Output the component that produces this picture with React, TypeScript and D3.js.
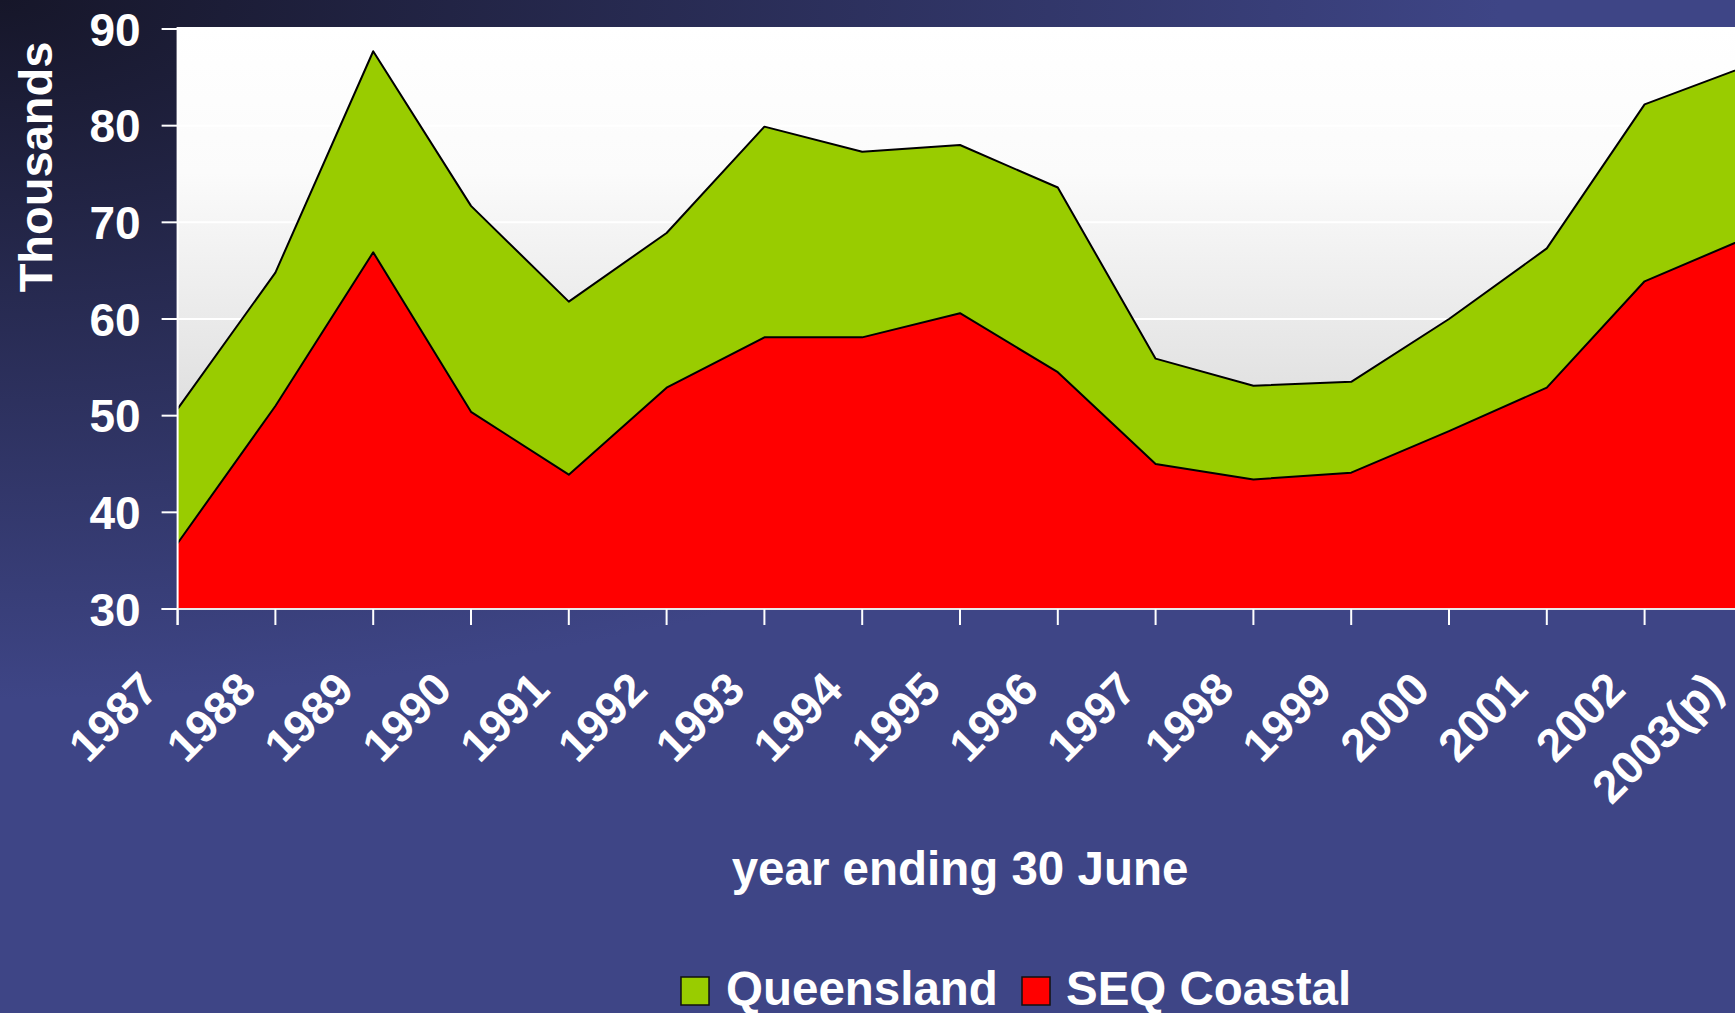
import React from "react";
import * as d3 from "d3";

const years = ["1987", "1988", "1989", "1990", "1991", "1992", "1993", "1994", "1995", "1996", "1997", "1998", "1999", "2000", "2001", "2002", "2003(p)"];
const queensland = [50.7, 64.8, 87.7, 71.7, 61.8, 68.9, 79.9, 77.3, 78.0, 73.6, 55.9, 53.1, 53.5, 60.0, 67.3, 82.2, 86.0];
const seqCoastal = [36.8, 51.0, 66.9, 50.4, 43.9, 52.9, 58.1, 58.1, 60.6, 54.5, 45.0, 43.4, 44.1, 48.4, 52.9, 63.9, 68.2];
const yTicks = [30, 40, 50, 60, 70, 80, 90];
const seriesNames = ["Queensland", "SEQ Coastal"];
const seriesColors = ["#99cc00", "#ff0000"];

const width = 1735;
const height = 1013;
const font = "'Liberation Sans', Arial, sans-serif";

export default function App() {
  // the last category sits just past the right edge, as in the original
  const x = d3.scalePoint<string>().domain(years).range([177.6, 1742.4]);
  const y = d3.scaleLinear().domain([30, 90]).range([609, 29]);

  const area = d3
    .area<number>()
    .x((_, i) => x(years[i]) as number)
    .y0(y(30))
    .y1((d) => y(d));
  const line = d3
    .line<number>()
    .x((_, i) => x(years[i]) as number)
    .y((d) => y(d));

  const left = 177.6;
  const bottom = y(30);

  return (
    <svg
      width={width}
      height={height}
      style={{ position: "absolute", left: 0, top: 0, display: "block" }}
      fontFamily={font}
    >
      <defs>
        <radialGradient
          id="bg"
          gradientUnits="userSpaceOnUse"
          cx={0}
          cy={0}
          r={1}
          gradientTransform="scale(1500,700)"
        >
          <stop offset="0" stopColor="#161629" />
          <stop offset="1" stopColor="#3e4586" />
        </radialGradient>
        <linearGradient id="plotbg" x1="0" y1="0" x2="0" y2="1">
          <stop offset="0" stopColor="#ffffff" />
          <stop offset="0.25" stopColor="#fbfbfb" />
          <stop offset="1" stopColor="#c8c8c8" />
        </linearGradient>
      </defs>

      <rect width={width} height={height} fill="url(#bg)" />

      {/* plot area */}
      <rect x={left} y={27} width={width - left} height={bottom - 27} fill="url(#plotbg)" />
      {yTicks.slice(1, -1).map((t) => (
        <line key={t} x1={left} x2={width} y1={y(t)} y2={y(t)} stroke="#ffffff" strokeWidth={2} />
      ))}

      {/* areas: Queensland behind, SEQ Coastal in front */}
      <path d={area(queensland) ?? ""} fill={seriesColors[0]} />
      <path d={line(queensland) ?? ""} fill="none" stroke="#000" strokeWidth={2} strokeLinejoin="round" />
      <path d={area(seqCoastal) ?? ""} fill={seriesColors[1]} />
      <path d={line(seqCoastal) ?? ""} fill="none" stroke="#000" strokeWidth={2} strokeLinejoin="round" />

      {/* axes */}
      <line x1={left} x2={left} y1={27} y2={bottom + 16} stroke="#ffffff" strokeWidth={2} />
      <line x1={left - 16} x2={width} y1={bottom} y2={bottom} stroke="#e8e8e8" strokeWidth={2} />
      {yTicks.map((t) => (
        <g key={t}>
          <line x1={left - 16} x2={left} y1={y(t)} y2={y(t)} stroke="#ffffff" strokeWidth={2} />
          <text
            x={left - 37}
            y={y(t)}
            dy="0.36em"
            textAnchor="end"
            fill="#ffffff"
            fontWeight="bold"
            fontSize={46}
          >
            {t}
          </text>
        </g>
      ))}
      {years.map((yr) => {
        const px = x(yr) as number;
        return (
          <g key={yr}>
            <line x1={px} x2={px} y1={bottom} y2={bottom + 16} stroke="#ffffff" strokeWidth={2} />
            <text
              transform={`translate(${px - 17},692) rotate(-45)`}
              textAnchor="end"
              fill="#ffffff"
              fontWeight="bold"
              fontSize={46}
            >
              {yr}
            </text>
          </g>
        );
      })}

      <text
        transform="translate(52,167) rotate(-90)"
        textAnchor="middle"
        fill="#ffffff"
        fontWeight="bold"
        fontSize={47}
      >
        Thousands
      </text>
      <text x={960} y={885} textAnchor="middle" fill="#ffffff" fontWeight="bold" fontSize={47.5}>
        year ending 30 June
      </text>

      {/* legend */}
      <g>
        <rect x={681} y={977} width={28} height={28} fill={seriesColors[0]} stroke="#111" strokeWidth={1.5} />
        <text x={726} y={1005} fill="#ffffff" fontWeight="bold" fontSize={47.5}>
          {seriesNames[0]}
        </text>
        <rect x={1022} y={977} width={28} height={28} fill={seriesColors[1]} stroke="#111" strokeWidth={1.5} />
        <text x={1066} y={1005} fill="#ffffff" fontWeight="bold" fontSize={47.5}>
          {seriesNames[1]}
        </text>
      </g>
    </svg>
  );
}
